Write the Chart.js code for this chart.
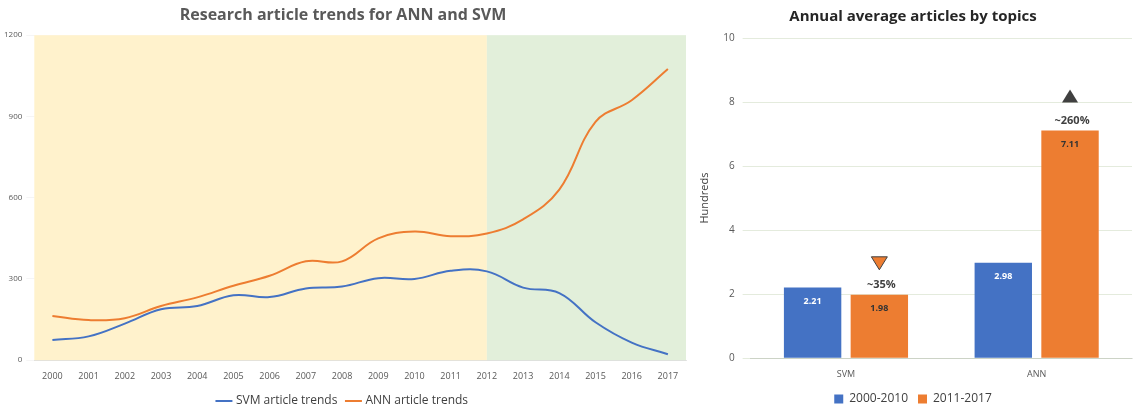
<!DOCTYPE html>
<html>
<head>
<meta charset="utf-8">
<script src="https://cdn.jsdelivr.net/npm/chart.js@4"></script>
<style>
  body { margin: 0; background: #fff; font-family: 'Open Sans', sans-serif; }
  #left { position: absolute; left: 0; top: 0; width: 690px; height: 419px; }
  #right { position: absolute; left: 692px; top: 0; width: 450px; height: 419px; }
</style>
</head>
<body>
<div id="left"><canvas id="trendChart"></canvas></div>
<div id="right"><canvas id="avgChart"></canvas></div>
<script>
// Line chart data
const years = ['2000','2001','2002','2003','2004','2005','2006','2007','2008','2009','2010','2011','2012','2013','2014','2015','2016','2017'];
const svmTrend = [75, 88, 135, 188, 200, 240, 233, 265, 272, 303, 300, 330, 328, 268, 248, 140, 65, 22];
const annTrend = [163, 148, 155, 200, 232, 275, 312, 365, 365, 450, 475, 458, 468, 520, 630, 880, 960, 1075];

// Bar chart data
const topics = ['SVM', 'ANN'];
const avg2000_2010 = [2.21, 2.98];
const avg2011_2017 = [1.98, 7.11];
const changeLabels = ['~35%', '~260%'];

const blue = '#4472C4';
const orange = '#ED7D31';
const tickFont = { family: "'Open Sans', sans-serif", size: 9 };

// Shaded periods behind the lines
const bands = {
  id: 'bands',
  beforeDatasetsDraw(chart) {
    const { ctx, chartArea: a, scales: { x } } = chart;
    const split = x.getPixelForValue(12);
    ctx.save();
    ctx.fillStyle = '#FFF2CC';
    ctx.fillRect(a.left, a.top, split - a.left, a.bottom - a.top);
    ctx.fillStyle = '#E2EFDA';
    ctx.fillRect(split, a.top, a.right - split, a.bottom - a.top);
    ctx.restore();
  }
};

new Chart(document.getElementById('trendChart'), {
  type: 'line',
  data: {
    labels: years,
    datasets: [
      { label: 'SVM article trends', data: svmTrend, borderColor: blue, borderWidth: 2, tension: 0.4, pointRadius: 0 },
      { label: 'ANN article trends', data: annTrend, borderColor: orange, borderWidth: 2, tension: 0.4, pointRadius: 0 }
    ]
  },
  options: {
    responsive: true,
    maintainAspectRatio: false,
    animation: false,
    layout: { padding: { left: 0, right: 4, top: 0, bottom: 2 } },
    scales: {
      x: {
        offset: true,
        grid: { display: false },
        ticks: { font: tickFont, color: '#595959' }
      },
      y: {
        min: 0, max: 1200,
        ticks: { stepSize: 300, font: { family: "'Open Sans', sans-serif", size: 8 }, color: '#595959', padding: 4, callback: v => String(v) },
        grid: { color: 'rgba(0,0,0,0.04)' },
        border: { display: false }
      }
    },
    plugins: {
      title: { display: true, text: 'Research article trends for ANN and SVM', color: '#595959', font: { family: "'Open Sans', sans-serif", size: 16, weight: 'bold' }, padding: { top: 6, bottom: 10 } },
      legend: { position: 'bottom', labels: { usePointStyle: true, pointStyle: 'line', boxWidth: 22, color: '#404040', font: { family: "'Open Sans', sans-serif", size: 12 } } }
    }
  },
  plugins: [bands]
});

// Value labels inside bars plus change markers above the 2011-2017 bars
const barLabels = {
  id: 'barLabels',
  afterDatasetsDraw(chart) {
    const { ctx } = chart;
    ctx.save();
    ctx.textAlign = 'center';
    chart.data.datasets.forEach((ds, di) => {
      chart.getDatasetMeta(di).data.forEach((bar, i) => {
        ctx.fillStyle = di === 0 ? '#fff' : '#333';
        ctx.font = "bold 9px 'Open Sans', sans-serif";
        ctx.fillText(ds.data[i].toFixed(2), bar.x, bar.y + 14);
      });
    });
    const meta = chart.getDatasetMeta(1);
    meta.data.forEach((bar, i) => {
      ctx.fillStyle = '#404040';
      ctx.font = "bold 11px 'Open Sans', sans-serif";
      ctx.fillText(changeLabels[i], bar.x + 2, bar.y - 10);
      const ty = bar.y - 32;
      ctx.beginPath();
      if (i === 0) {
        ctx.fillStyle = orange;
        ctx.strokeStyle = '#404040';
        ctx.moveTo(bar.x - 8, ty - 6); ctx.lineTo(bar.x + 8, ty - 6); ctx.lineTo(bar.x, ty + 7);
        ctx.closePath(); ctx.fill(); ctx.stroke();
      } else {
        ctx.fillStyle = '#404040';
        ctx.moveTo(bar.x - 8, ty + 4); ctx.lineTo(bar.x + 8, ty + 4); ctx.lineTo(bar.x, ty - 9);
        ctx.closePath(); ctx.fill();
      }
    });
    ctx.restore();
  }
};

new Chart(document.getElementById('avgChart'), {
  type: 'bar',
  data: {
    labels: topics,
    datasets: [
      { label: '2000-2010', data: avg2000_2010, backgroundColor: blue, categoryPercentage: 0.7, barPercentage: 0.86 },
      { label: '2011-2017', data: avg2011_2017, backgroundColor: orange, categoryPercentage: 0.7, barPercentage: 0.86 }
    ]
  },
  options: {
    responsive: true,
    maintainAspectRatio: false,
    animation: false,
    layout: { padding: { left: 2, right: 10, top: 0, bottom: 4 } },
    scales: {
      x: {
        grid: { display: false },
        ticks: { font: tickFont, color: '#595959' }
      },
      y: {
        min: 0, max: 10,
        ticks: { stepSize: 2, font: { family: "'Open Sans', sans-serif", size: 10 }, color: '#595959', padding: 8 },
        grid: { color: '#E4EBDD' },
        border: { display: false },
        title: { display: true, text: 'Hundreds', color: '#404040', font: { family: "'Open Sans', sans-serif", size: 11 } }
      }
    },
    plugins: {
      title: { display: true, text: 'Annual average articles by topics', color: '#262626', font: { family: "'Open Sans', sans-serif", size: 15, weight: 'bold' }, padding: { top: 8, bottom: 12 } },
      legend: { position: 'bottom', labels: { boxWidth: 9, boxHeight: 9, color: '#404040', font: { family: "'Open Sans', sans-serif", size: 12 } } }
    }
  },
  plugins: [barLabels]
});
</script>
</body>
</html>
